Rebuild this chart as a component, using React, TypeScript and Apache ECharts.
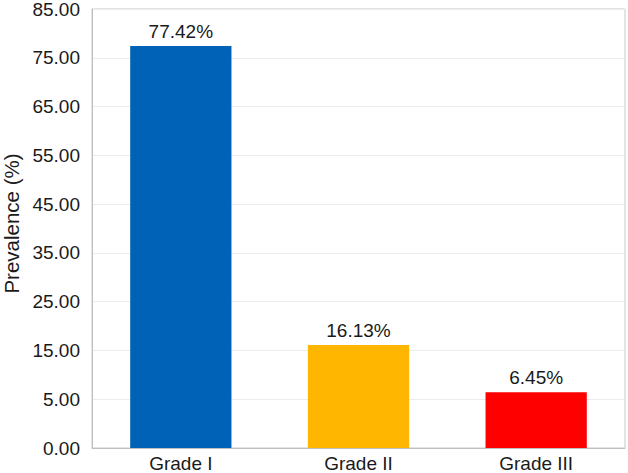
import React, { useEffect, useRef } from "react";
import * as echarts from "echarts";

const categories = ["Grade I", "Grade II", "Grade III"];
const prevalence = [77.42, 16.13, 6.45];
const barColors = ["#0062B6", "#FFB600", "#FF0000"];
const yTickLabels = ["0.00", "5.00", "15.00", "25.00", "35.00", "45.00", "55.00", "65.00", "75.00", "85.00"];
const axisMin = -5;
const axisMax = 85;
const axisStep = 10;

export default function App() {
  const ref = useRef<HTMLDivElement>(null);
  useEffect(() => {
    if (!ref.current) return;
    const chart = echarts.init(ref.current, null, { renderer: "svg" });
    const font = "'Liberation Sans', Arial, sans-serif";
    chart.setOption({
      animation: false,
      backgroundColor: "#ffffff",
      grid: {
        left: 92,
        right: 3,
        top: 9,
        bottom: 25,
        containLabel: false,
        outerBoundsMode: "none",
        show: true,
        borderColor: "#c8c8c8",
        borderWidth: 1,
      },
      xAxis: {
        type: "category",
        data: categories,
        axisLine: { show: true, onZero: false, lineStyle: { color: "#bfbfbf", width: 1 } },
        axisTick: { show: false },
        axisLabel: { color: "#1a1a1a", fontSize: 19, fontFamily: font, margin: 6 },
      },
      yAxis: {
        type: "value",
        min: axisMin,
        max: axisMax,
        interval: axisStep,
        name: "Prevalence (%)",
        nameLocation: "middle",
        nameGap: 66,
        nameTextStyle: { color: "#1a1a1a", fontSize: 20.5, fontFamily: font, padding: [0, 0, 0, 10] },
        axisLine: { show: true, lineStyle: { color: "#bfbfbf", width: 1 } },
        axisTick: { show: false },
        axisLabel: {
          color: "#1a1a1a",
          fontSize: 19,
          lineHeight: 17,
          fontFamily: font,
          margin: 12,
          formatter: (_v: number, i: number) => yTickLabels[i] ?? "",
        },
        splitLine: { show: true, lineStyle: { color: "#ececec", width: 1 } },
      },
      series: [
        {
          type: "custom",
          data: prevalence.map((v, i) => [i, v]),
          encode: { x: 0, y: 1 },
          renderItem: (params: any, api: any) => {
            const idx = api.value(0);
            const val = api.value(1);
            const top = api.coord([idx, val]);
            const bottom = api.coord([idx, axisMin]);
            const w = api.size([1, 0])[0] * 0.57;
            return {
              type: "group",
              children: [
                {
                  type: "rect",
                  shape: { x: top[0] - w / 2, y: top[1], width: w, height: bottom[1] - top[1] },
                  style: { fill: barColors[params.dataIndex] },
                },
                {
                  type: "text",
                  x: top[0],
                  y: top[1] - 5,
                  style: {
                    text: `${val.toFixed(2)}%`,
                    fill: "#1a1a1a",
                    font: `19px ${font}`,
                    align: "center",
                    verticalAlign: "bottom",
                  },
                },
              ],
            };
          },
        },
      ],
    });
    return () => chart.dispose();
  }, []);
  return (
    <div
      ref={ref}
      style={{ position: "fixed", left: 0, top: 0, width: 628, height: 473 }}
    />
  );
}
